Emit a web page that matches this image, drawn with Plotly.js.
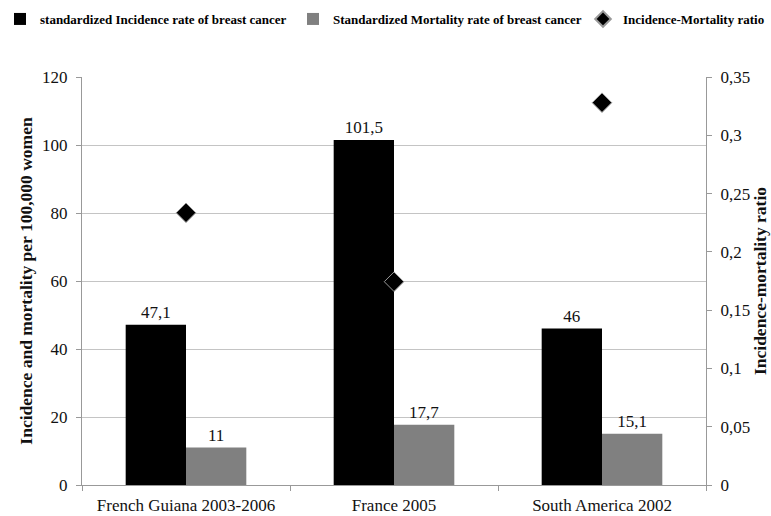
<!DOCTYPE html>
<html><head><meta charset="utf-8">
<script src="https://cdn.plot.ly/plotly-3.0.1.min.js"></script>
<style>html,body{margin:0;padding:0;background:#fff}#chart{width:771px;height:516px}</style>
</head><body><div id="chart"></div>
<script>
const categories = ['French Guiana 2003-2006', 'France 2005', 'South America 2002'];
const incidence = [47.1, 101.5, 46];
const mortality = [11, 17.7, 15.1];
const ratio = [0.2335, 0.1744, 0.328];
const incidenceLabels = ['47,1', '101,5', '46'];
const mortalityLabels = ['11', '17,7', '15,1'];
const seriesNames = ['standardized Incidence rate of breast cancer', 'Standardized Mortality rate of breast cancer', 'Incidence-Mortality ratio'];

const serif = 'Liberation Serif, Times New Roman, serif';
const W = 771, H = 516;
const legFont = {family:serif, size:13, weight:'bold', color:'#000'};
function leg(px){ return {orientation:'h', xref:'container', yref:'container', x:px/W, xanchor:'left', y:1-19/H, yanchor:'middle',
  font:legFont, itemwidth:30, itemsizing:'constant', bgcolor:'rgba(0,0,0,0)', borderwidth:0}; }

const traces = [
  {type:'bar', name:seriesNames[0], x:categories, y:incidence, text:incidenceLabels, textposition:'outside', cliponaxis:false,
   textfont:{family:serif, size:17, color:'#111'}, marker:{color:'#000'}, legend:'legend'},
  {type:'bar', name:seriesNames[1], x:categories, y:mortality, text:mortalityLabels, textposition:'outside', cliponaxis:false,
   textfont:{family:serif, size:17, color:'#111'}, marker:{color:'#808080'}, legend:'legend2'},
  {type:'scatter', mode:'markers', name:seriesNames[2], x:categories, y:ratio, yaxis:'y2', legend:'legend3',
   marker:{symbol:'diamond', size:15, color:'#000', line:{color:'#999', width:1}}}
];
const tickFont = {family:serif, size:17, color:'#111'};
const titleFont = {family:serif, size:17.5, weight:'bold', color:'#111'};
const layout = {
  width:W, height:H,
  margin:{l:82, r:65, t:77, b:31},
  paper_bgcolor:'#fff', plot_bgcolor:'#fff',
  font:{family:serif, color:'#111'},
  barmode:'group', bargap:0.42, bargroupgap:0,
  showlegend:true,
  legend:leg(0), legend2:leg(293), legend3:leg(583),
  xaxis:{type:'category', showline:true, linecolor:'#999', linewidth:1, ticks:'outside', tickson:'boundaries', ticklen:5, tickcolor:'#999',
    tickfont:tickFont, ticklabelstandoff:5, showgrid:false, zeroline:false},
  yaxis:{range:[0,120], dtick:20, showline:true, linecolor:'#999', ticks:'outside', ticklen:5, tickcolor:'#999',
    gridcolor:'#c4c4c4', gridwidth:1, zeroline:false, tickfont:tickFont, ticklabelstandoff:5,
    title:{text:'Incidence and mortality per 100,000 women', font:titleFont, standoff:4}},
  yaxis2:{overlaying:'y', side:'right', range:[0,0.35], dtick:0.05, showline:true, linecolor:'#999', ticks:'outside', ticklen:5, tickcolor:'#999',
    showgrid:false, zeroline:false, tickfont:tickFont, ticklabelstandoff:5,
    title:{text:'Incidence-mortality ratio', font:titleFont, standoff:2}},
  separators:', '
};
Plotly.newPlot('chart', traces, layout, {displayModeBar:false, staticPlot:true});
</script></body></html>
